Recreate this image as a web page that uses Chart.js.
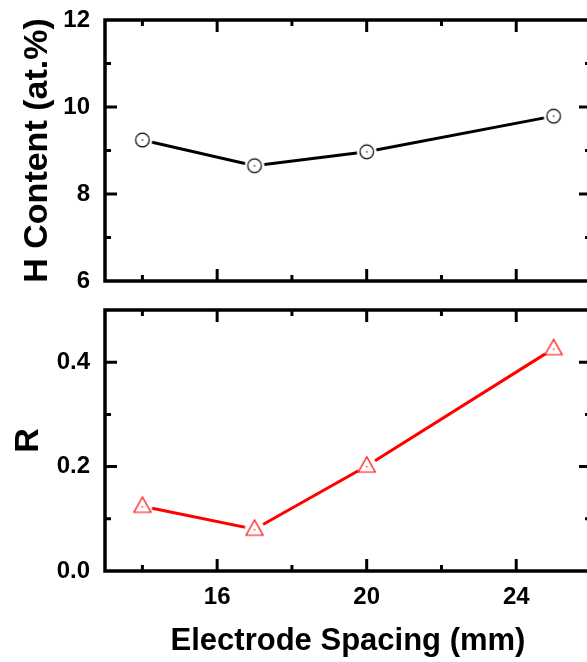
<!DOCTYPE html>
<html>
<head>
<meta charset="utf-8">
<script src="https://cdn.jsdelivr.net/npm/chart.js@4.4.1/dist/chart.umd.min.js"></script>
<style>
  html, body { margin: 0; padding: 0; background: #fff; overflow: hidden; }
  #wrap { position: relative; width: 587px; height: 662px; overflow: hidden; }
  canvas { position: absolute; left: 0; }
  #top { top: 0; }
  #bottom { top: 290px; }
</style>
</head>
<body>
<div id="wrap">
  <canvas id="top" width="620" height="300"></canvas>
  <canvas id="bottom" width="620" height="372"></canvas>
</div>
<script>
// Electrode spacing (mm)
const spacing = [14, 17, 20, 25];
// Hydrogen content (at.%)
const hContent = [9.24, 8.65, 8.97, 9.79];
// Ratio R
const rValues = [0.124, 0.080, 0.201, 0.426];

// Axis ticks
const xMajorTicks = [16, 20, 24];
const xMinorTicks = [14, 18, 22];
const hMajorTicks = [6, 8, 10, 12];
const hMinorTicks = [7, 9, 11];
const rMajorTicks = [0.0, 0.2, 0.4];
const rMinorTicks = [0.1, 0.3];

const FONT = '"Liberation Sans", Arial, Helvetica, sans-serif';

// Open marker with a white halo so the line stops short of it
function circleMarker() {
  const c = document.createElement('canvas');
  c.width = 24; c.height = 24;
  const g = c.getContext('2d');
  g.fillStyle = '#fff';
  g.beginPath(); g.arc(12, 12, 10, 0, Math.PI * 2); g.fill();
  g.strokeStyle = '#000'; g.lineWidth = 1.2;
  g.beginPath(); g.arc(12, 12, 6.8, 0, Math.PI * 2); g.stroke();
  g.fillStyle = '#000';
  g.beginPath(); g.arc(12, 12, 0.8, 0, Math.PI * 2); g.fill();
  return c;
}
function triangleMarker() {
  const c = document.createElement('canvas');
  c.width = 24; c.height = 24;
  const g = c.getContext('2d');
  g.fillStyle = '#fff';
  g.beginPath(); g.arc(12, 12, 10, 0, Math.PI * 2); g.fill();
  g.strokeStyle = '#ff0000'; g.lineWidth = 1.2;
  g.beginPath();
  g.moveTo(12, 2.8); g.lineTo(3.5, 18); g.lineTo(20.5, 18); g.closePath();
  g.stroke();
  g.fillStyle = '#ff0000';
  g.beginPath(); g.arc(12, 12.5, 0.8, 0, Math.PI * 2); g.fill();
  return c;
}

// Closed frame with inward ticks on all four sides
const frameTicks = {
  id: 'frameTicks',
  afterDatasetsDraw(chart, args, opts) {
    const { ctx, chartArea: a, scales } = chart;
    const xs = scales.x, ys = scales.y;
    ctx.save();
    ctx.strokeStyle = '#000';
    ctx.lineCap = 'butt';
    ctx.lineWidth = 3;
    const xTick = (v, len) => {
      const p = xs.getPixelForValue(v);
      ctx.beginPath();
      ctx.moveTo(p, a.bottom); ctx.lineTo(p, a.bottom - len);
      ctx.moveTo(p, a.top); ctx.lineTo(p, a.top + len);
      ctx.stroke();
    };
    const yTick = (v, len) => {
      const p = ys.getPixelForValue(v);
      ctx.beginPath();
      ctx.moveTo(a.left, p); ctx.lineTo(a.left + len, p);
      ctx.moveTo(a.right, p); ctx.lineTo(a.right - len, p);
      ctx.stroke();
    };
    opts.xMajor.forEach(v => xTick(v, 12));
    opts.xMinor.forEach(v => xTick(v, 6));
    opts.yMajor.forEach(v => { if (v > ys.min && v < ys.max) yTick(v, 12); });
    opts.yMinor.forEach(v => yTick(v, 6));
    ctx.lineWidth = 3.5;
    ctx.strokeRect(a.left, a.top, a.right - a.left, a.bottom - a.top);
    ctx.restore();
  }
};

const tickFont = { family: FONT, size: 24, weight: 'bold' };
const yTitleFont = { family: FONT, size: 34, weight: 'bold' };
const xTitleFont = { family: FONT, size: 31, weight: 'bold' };

function xy(xv, yv) { return xv.map((v, i) => ({ x: v, y: yv[i] })); }

// Fixed-width y axis without extra room for overhanging labels
function fitY(s) { s.width = 105; s.paddingTop = 0; s.paddingBottom = 0; }

// Upper panel: H content
new Chart(document.getElementById('top'), {
  type: 'line',
  data: {
    datasets: [{
      data: xy(spacing, hContent),
      borderColor: '#000',
      borderWidth: 3,
      pointStyle: circleMarker(),
      pointRadius: 10,
      tension: 0
    }]
  },
  options: {
    responsive: false,
    animation: false,
    devicePixelRatio: 1,
    layout: { padding: { top: 20, right: 29, bottom: 19, left: 0 } },
    plugins: {
      legend: { display: false },
      tooltip: { enabled: false },
      frameTicks: { xMajor: xMajorTicks, xMinor: xMinorTicks, yMajor: hMajorTicks, yMinor: hMinorTicks }
    },
    scales: {
      x: { type: 'linear', min: 13, max: 26, display: false },
      y: {
        type: 'linear', min: 6, max: 12,
        afterFit: fitY,
        afterBuildTicks: s => { s.ticks = hMajorTicks.map(v => ({ value: v })); },
        grid: { display: false, drawTicks: false },
        border: { display: false },
        ticks: { font: tickFont, color: '#000', padding: 15, callback: v => String(v) },
        title: { display: true, text: 'H Content (at.%)', font: yTitleFont, color: '#000', padding: { top: 17, bottom: 0 } }
      }
    }
  },
  plugins: [frameTicks]
});

// Lower panel: R
new Chart(document.getElementById('bottom'), {
  type: 'line',
  data: {
    datasets: [{
      data: xy(spacing, rValues),
      borderColor: '#ff0000',
      borderWidth: 3,
      pointStyle: triangleMarker(),
      pointRadius: 10,
      tension: 0
    }]
  },
  options: {
    responsive: false,
    animation: false,
    devicePixelRatio: 1,
    layout: { padding: { top: 20, right: 29, bottom: 0, left: 0 } },
    plugins: {
      legend: { display: false },
      tooltip: { enabled: false },
      frameTicks: { xMajor: xMajorTicks, xMinor: xMinorTicks, yMajor: rMajorTicks, yMinor: rMinorTicks }
    },
    scales: {
      x: {
        type: 'linear', min: 13, max: 26,
        afterFit: s => { s.height = 91; s.paddingLeft = 0; s.paddingRight = 0; },
        afterBuildTicks: s => { s.ticks = xMajorTicks.map(v => ({ value: v })); },
        grid: { display: false, drawTicks: false },
        border: { display: false },
        ticks: { font: tickFont, color: '#000', padding: 12, maxRotation: 0, callback: v => String(v) },
        title: { display: true, text: 'Electrode Spacing (mm)', font: xTitleFont, color: '#000', padding: { top: 0, bottom: 2 } }
      },
      y: {
        type: 'linear', min: 0, max: 0.5,
        afterFit: fitY,
        afterBuildTicks: s => { s.ticks = rMajorTicks.map(v => ({ value: v })); },
        grid: { display: false, drawTicks: false },
        border: { display: false },
        ticks: { font: tickFont, color: '#000', padding: 15, callback: v => v.toFixed(1) },
        title: { display: true, text: 'R', font: yTitleFont, color: '#000', padding: { top: 8, bottom: 0 } }
      }
    }
  },
  plugins: [frameTicks]
});
</script>
</body>
</html>
